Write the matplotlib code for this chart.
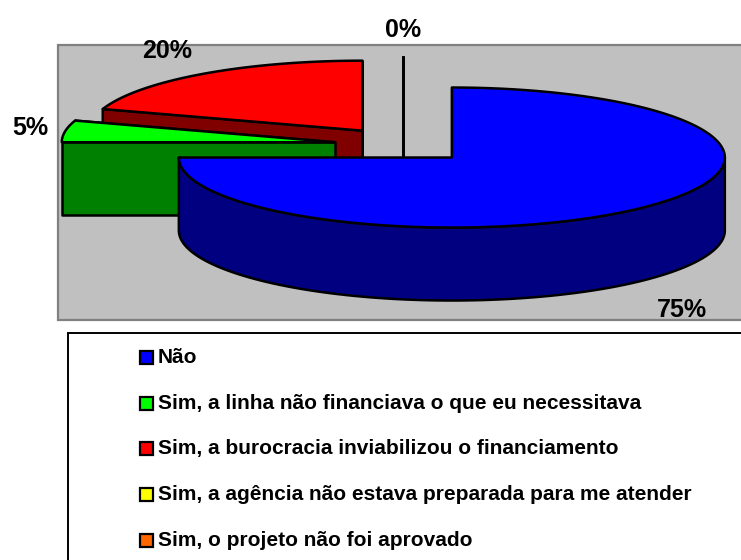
import numpy as np
import matplotlib
matplotlib.use("Agg")
import matplotlib.pyplot as plt
from matplotlib.patches import Polygon, Rectangle

plt.rcParams['font.family'] = ['Liberation Sans', 'DejaVu Sans']

# data
labels = ["Não",
          "Sim, a linha não financiava o que eu necessitava",
          "Sim, a burocracia inviabilizou o financiamento",
          "Sim, a agência não estava preparada para me atender",
          "Sim, o projeto não foi aprovado"]
values = [75, 5, 20, 0, 0]
top_colors = ["#0000FF", "#00FF00", "#FF0000", "#FFFF00", "#FF6600"]
side_colors = ["#000080", "#008000", "#800000", "#808000", "#803300"]

# geometry of the 3d pie (pixel space)
cx, cy = 403, 145
rx, ry = 273, 70
depth = 73
explode = 0.253

fig = plt.figure(figsize=(7.41, 5.60), dpi=100)
ax = fig.add_axes([0, 0, 1, 1])
ax.set_xlim(0, 741)
ax.set_ylim(560, 0)
ax.axis('off')

# grey plot area
ax.add_patch(Rectangle((58, 45), 720, 275, facecolor="#C0C0C0", edgecolor="#808080", lw=1.6, zorder=0))


def pt(x0, y0, t, dz=0):
    return (x0 + rx * np.sin(t), y0 - ry * np.cos(t) + dz)


total = float(sum(values))
starts = np.cumsum([0] + values[:-1]) / total * 2 * np.pi
ends = np.cumsum(values) / total * 2 * np.pi

slices = []
for i in range(len(values)):
    a, b = starts[i], ends[i]
    mid = (a + b) / 2
    sx = cx + explode * rx * np.sin(mid)
    sy = cy - explode * ry * np.cos(mid)
    slices.append((sy, i, a, b, mid, sx))

lw = 1.8
for sy, i, a, b, mid, sx in sorted(slices):
    # radial walls (hidden one first, visible one last)
    walls = []
    for t, vis in ((a, -np.sin(a)), (b, np.sin(b))):
        p0 = (sx, sy)
        p1 = pt(sx, sy, t)
        poly = [p0, p1, (p1[0], p1[1] + depth), (p0[0], p0[1] + depth)]
        walls.append((vis, poly))
    for vis, poly in sorted(walls, key=lambda w: w[0]):
        ax.add_patch(Polygon(poly, closed=True, facecolor=side_colors[i], edgecolor="black", lw=lw, joinstyle='round'))
    # outer curved wall, front part only
    t1, t2 = max(a, np.pi / 2), min(b, 3 * np.pi / 2)
    if t2 > t1:
        ts = np.linspace(t1, t2, 100)
        upper = [pt(sx, sy, t) for t in ts]
        lower = [pt(sx, sy, t, depth) for t in ts[::-1]]
        ax.add_patch(Polygon(upper + lower, closed=True, facecolor=side_colors[i], edgecolor="black", lw=lw, joinstyle='round'))
    # top face
    ts = np.linspace(a, b, max(2, int((b - a) * 60)))
    top = [(sx, sy)] + [pt(sx, sy, t) for t in ts]
    ax.add_patch(Polygon(top, closed=True, facecolor=top_colors[i], edgecolor="black", lw=lw, joinstyle='round'))

# percentage labels, placed just outside the rim along the slice's mid angle
done = set()
for sy, i, a, b, mid, sx in slices:
    key = round(mid, 4)
    if key in done:
        continue
    done.add(key)
    s, c = np.sin(mid), np.cos(mid)
    rxp, ryp = pt(sx, sy, mid, depth if c < 0 else 0)
    lx = rxp + 17 * s
    ly = ryp - (20 if c > 0 else 25) * c
    ha = 'left' if s > 0.1 else ('right' if s < -0.1 else 'center')
    va = 'top' if c < -0.3 else ('baseline' if c > 0.3 else 'center')
    pct = 100 * values[i] / total
    ax.text(lx, ly, "%d%%" % round(pct), ha=ha, va=va, fontsize=18, fontweight='bold', zorder=5)

# legend box
ax.add_patch(Rectangle((68, 333), 700, 260, facecolor="white", edgecolor="black", lw=1.4, zorder=1))
for k, lab in enumerate(labels):
    yk = 357.5 + k * 45.7
    ax.add_patch(Rectangle((139.5, yk - 6.5), 13, 13, facecolor=top_colors[k], edgecolor="black", lw=1.6, zorder=2))
    ax.text(158, yk, lab, ha='left', va='center', fontsize=15, fontweight='bold', zorder=2)

fig.savefig("out.png", dpi=100)
